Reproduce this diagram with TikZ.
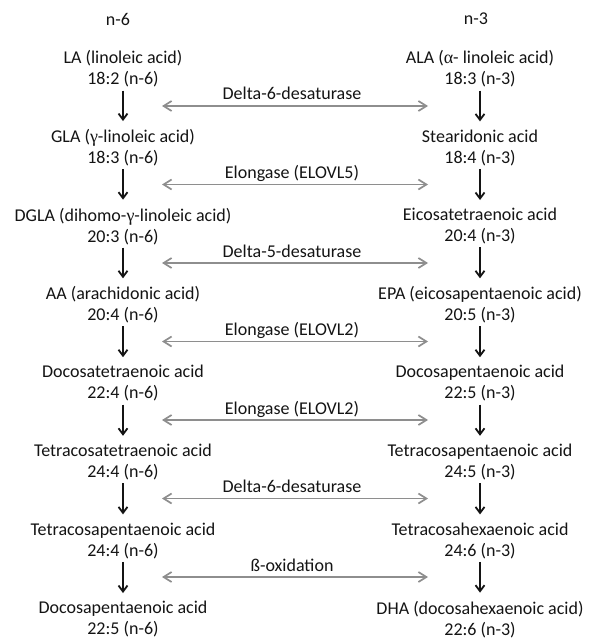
\documentclass[tikz,border=0pt]{standalone}
\usepackage{fontspec}
\setmainfont{Carlito}
\newfontfamily\grk{Liberation Serif}
\usetikzlibrary{arrows.meta}
\definecolor{txt}{HTML}{141414}
\definecolor{harr}{HTML}{8E8E8E}
\begin{document}
\begin{tikzpicture}[x=1pt,y=-1pt,
  acid/.style={align=center, font=\fontsize{18}{21}\selectfont, text=txt, inner sep=0pt},
  head/.style={font=\fontsize{18}{21}\selectfont, text=txt, inner sep=0pt},
  enz/.style={font=\fontsize{18}{21}\selectfont, text=txt, inner sep=0pt, anchor=base},
  down/.style={-{Straight Barb[length=6pt,width=9pt]}, line width=1.8pt, draw=txt, shorten <=3pt, shorten >=8pt},
  conv/.style={{Straight Barb[length=8pt,width=10pt]}-{Straight Barb[length=8pt,width=10pt]}, line width=1.7pt, draw=harr}
]
\useasboundingbox (0,0) rectangle (590,639);
\fill[white] (0,0) rectangle (590,639);

\node[head] (h6) at (118,19) {n-6};
\node[head] (h3) at (476,19) {n-3};

% left column (n-6)
\node[acid] (L0) at (123,69.0) {LA (linoleic acid)\\18:2 (n-6)};
\node[acid] (L1) at (123,147.6) {GLA ({\grk γ}-linoleic acid)\\18:3 (n-6)};
\node[acid] (L2) at (123,226.2) {DGLA (dihomo-{\grk γ}-linoleic acid)\\20:3 (n-6)};
\node[acid] (L3) at (123,304.8) {AA (arachidonic acid)\\20:4 (n-6)};
\node[acid] (L4) at (123,383.4) {Docosatetraenoic acid\\22:4 (n-6)};
\node[acid] (L5) at (123,462.0) {Tetracosatetraenoic acid\\24:4 (n-6)};
\node[acid] (L6) at (123,540.6) {Tetracosapentaenoic acid\\24:4 (n-6)};
\node[acid] (L7) at (123,619.2) {Docosapentaenoic acid\\22:5 (n-6)};

% right column (n-3)
\node[acid] (R0) at (480,69.0) {ALA ({\grk α}- linoleic acid)\\18:3 (n-3)};
\node[acid] (R1) at (480,147.6) {Stearidonic acid\\18:4 (n-3)};
\node[acid] (R2) at (480,226.2) {Eicosatetraenoic acid\\20:4 (n-3)};
\node[acid] (R3) at (480,304.8) {EPA (eicosapentaenoic acid)\\20:5 (n-3)};
\node[acid] (R4) at (480,383.4) {Docosapentaenoic acid\\22:5 (n-3)};
\node[acid] (R5) at (480,462.0) {Tetracosapentaenoic acid\\24:5 (n-3)};
\node[acid] (R6) at (480,540.6) {Tetracosahexaenoic acid\\24:6 (n-3)};
\node[acid] (R7) at (480,619.2) {DHA (docosahexaenoic acid)\\22:6 (n-3)};

\foreach \a/\b in {0/1,1/2,2/3,3/4,4/5,5/6,6/7}{
  \draw[down] (L\a.south) -- (L\b.north);
  \draw[down] (R\a.south) -- (R\b.north);
}

% enzyme arrows
\foreach \k/\lab in {0/Delta-6-desaturase,1/Elongase (ELOVL5),2/Delta-5-desaturase,3/Elongase (ELOVL2),4/Elongase (ELOVL2),5/Delta-6-desaturase,6/ß-oxidation}{
  \coordinate (hl\k) at (162,{106+78.5*\k});
  \coordinate (hr\k) at (428,{106+78.5*\k});
  \node[enz] (E\k) at (292,{100+78.5*\k}) {\lab};
  \draw[conv] (hl\k) -- (hr\k);
}
\end{tikzpicture}
\end{document}
